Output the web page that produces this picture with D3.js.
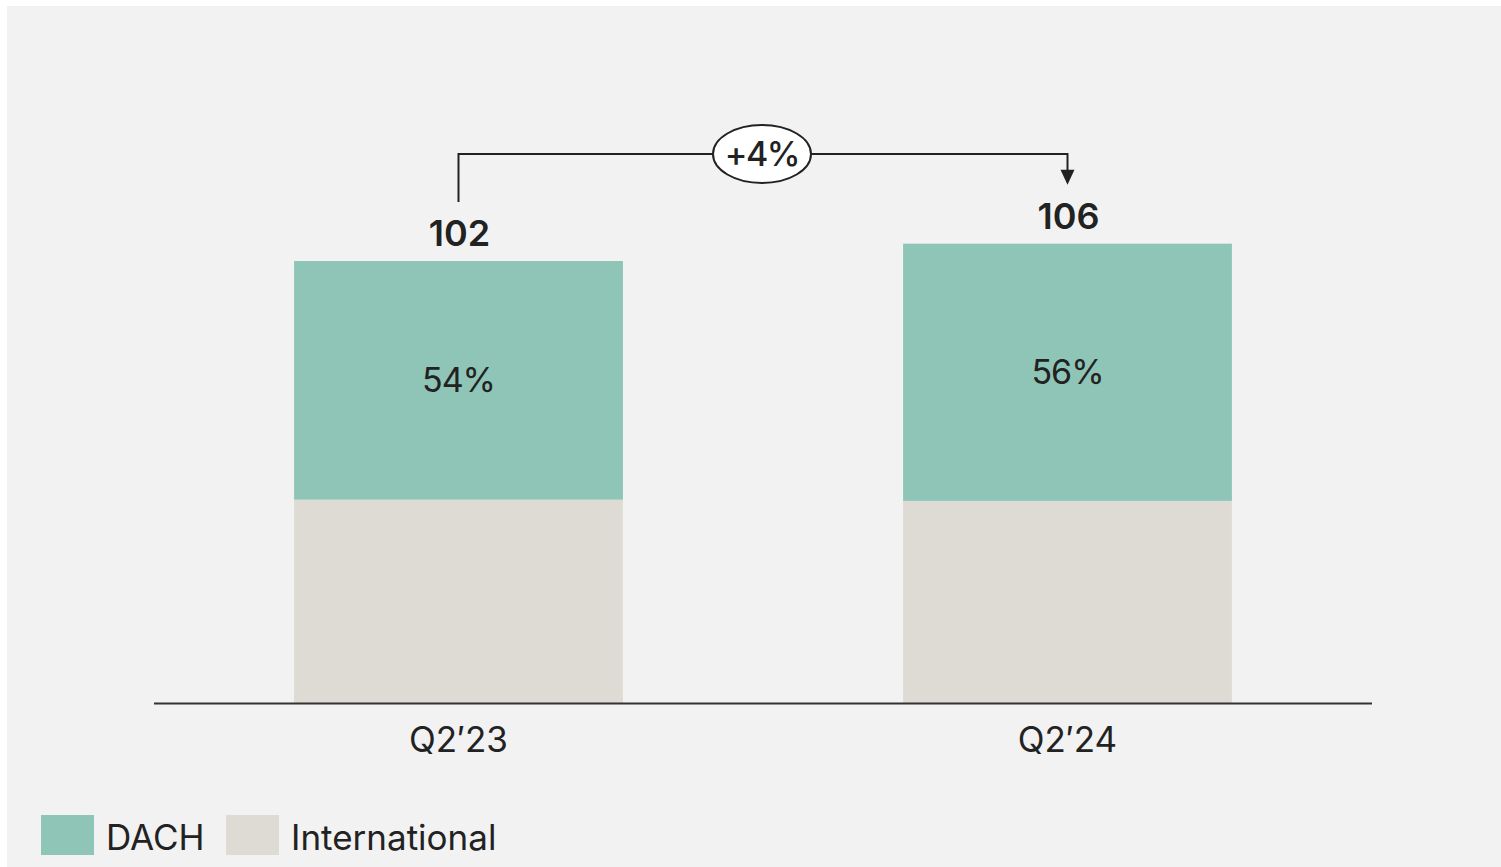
<!DOCTYPE html>
<html>
<head>
<meta charset="utf-8">
<script src="https://cdn.jsdelivr.net/npm/d3@7/dist/d3.min.js"></script>
<style>
  html, body { margin: 0; padding: 0; background: #ffffff; }
  svg { display: block; }
</style>
</head>
<body>
<div id="chart"></div>
<script>
// data
const categories = ["Q2\u203223", "Q2\u203224"];
const totals = [102, 106];
const dachShare = [54, 56];
const seriesNames = ["DACH", "International"];
const seriesColors = ["#8fc5b7", "#dedbd4"];
const growthLabel = "+4%";

const width = 1501, height = 867;
const font = "Inter, 'Liberation Sans', sans-serif";
const ink = "#222222";

const svg = d3.select("#chart").append("svg")
  .attr("width", width).attr("height", height);

// panel background
svg.append("rect")
  .attr("x", 7).attr("y", 6)
  .attr("width", width - 7).attr("height", height - 6)
  .attr("fill", "#f2f2f2");

const x = d3.scaleBand()
  .domain(categories)
  .range([154, 1372])
  .paddingInner(0.46)
  .paddingOuter(0.23);

const y = d3.scaleLinear()
  .domain([0, 102])
  .range([703, 261]);

const rows = categories.map((c, i) => {
  const dach = totals[i] * dachShare[i] / 100;
  return { cat: c, total: totals[i], share: dachShare[i], intl: totals[i] - dach, dach };
});

const stack = d3.stack().keys(["intl", "dach"])(rows);

svg.append("g").selectAll("g")
  .data(stack)
  .join("g")
  .attr("fill", (d, i) => seriesColors[1 - i])
  .selectAll("rect")
  .data(d => d)
  .join("rect")
  .attr("x", d => x(d.data.cat))
  .attr("width", x.bandwidth())
  .attr("y", d => y(d[1]))
  .attr("height", d => y(d[0]) - y(d[1]));

// percentage labels in DACH segment
svg.append("g").selectAll("text")
  .data(rows)
  .join("text")
  .attr("x", d => x(d.cat) + x.bandwidth() / 2)
  .attr("y", d => (y(d.total) + y(d.intl)) / 2)
  .attr("dy", "0.35em")
  .attr("text-anchor", "middle")
  .attr("font-family", font)
  .attr("font-size", 34)
  .attr("letter-spacing", -1)
  .attr("fill", ink)
  .text(d => d.share + "%");

// total labels
svg.append("g").selectAll("text")
  .data(rows)
  .join("text")
  .attr("x", d => x(d.cat) + x.bandwidth() / 2 + 1)
  .attr("y", d => y(d.total) - 15)
  .attr("text-anchor", "middle")
  .attr("font-family", font)
  .attr("font-size", 36)
  .attr("font-weight", 600)
  .attr("fill", ink)
  .text(d => d.total);

// baseline axis
svg.append("line")
  .attr("x1", 154).attr("x2", 1372)
  .attr("y1", y(0) + 0.5).attr("y2", y(0) + 0.5)
  .attr("stroke", "#333").attr("stroke-width", 2);

// category labels
svg.append("g").selectAll("text")
  .data(categories)
  .join("text")
  .attr("x", d => x(d) + x.bandwidth() / 2)
  .attr("y", 752)
  .attr("text-anchor", "middle")
  .attr("font-family", font)
  .attr("font-size", 35)
  .attr("fill", ink)
  .text(d => d);

// growth bracket
const x0 = x(categories[0]) + x.bandwidth() / 2;
const x1 = x(categories[1]) + x.bandwidth() / 2;
const topY = 154;
svg.append("path")
  .attr("d", `M${x0},${y(totals[0]) - 59}V${topY}H${x1}V${y(totals[1]) - 72}`)
  .attr("fill", "none")
  .attr("stroke", ink)
  .attr("stroke-width", 2);
const tipY = y(totals[1]) - 59;
svg.append("path")
  .attr("d", `M${x1 - 7},${tipY - 15}L${x1 + 7},${tipY - 15}L${x1},${tipY}Z`)
  .attr("fill", ink);

const cx = (x0 + x1) / 2 - 1;
svg.append("ellipse")
  .attr("cx", cx).attr("cy", topY)
  .attr("rx", 49).attr("ry", 29)
  .attr("fill", "#ffffff")
  .attr("stroke", ink).attr("stroke-width", 2);
svg.append("text")
  .attr("x", cx).attr("y", topY)
  .attr("dy", "0.36em")
  .attr("text-anchor", "middle")
  .attr("font-family", font)
  .attr("font-size", 34)
  .attr("font-weight", 500)
  .attr("letter-spacing", -1.5)
  .attr("fill", ink)
  .text(growthLabel);

// legend
const legend = svg.append("g").attr("transform", "translate(41,815)");
const legendX = [0, 185];
seriesNames.forEach((name, i) => {
  const g = legend.append("g").attr("transform", `translate(${legendX[i]},0)`);
  g.append("rect").attr("width", 53).attr("height", 40).attr("fill", seriesColors[i]);
  g.append("text")
    .attr("x", 65).attr("y", 35)
    .attr("font-family", font)
    .attr("font-size", 35)
    .attr("fill", ink)
    .text(name);
});
</script>
</body>
</html>
